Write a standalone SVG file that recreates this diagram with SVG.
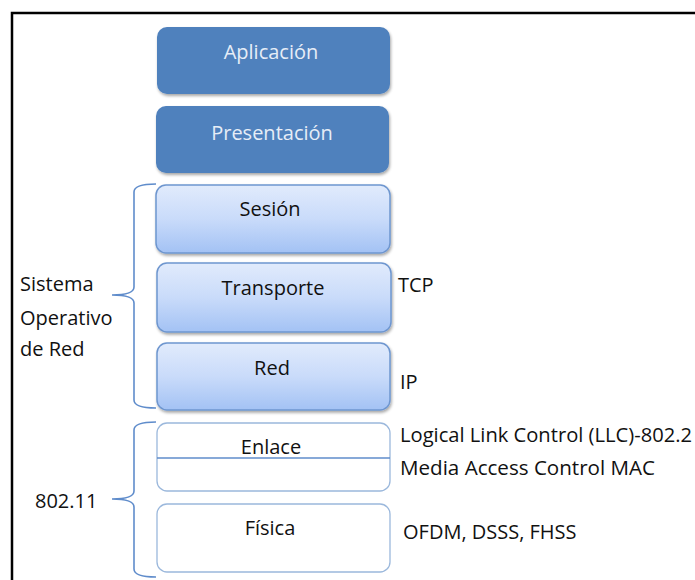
<svg xmlns="http://www.w3.org/2000/svg" width="695" height="580" viewBox="0 0 695 580">
<defs>
<linearGradient id="lg" x1="0" y1="0" x2="0" y2="1">
<stop offset="0" stop-color="#e1ebfc"/>
<stop offset="0.5" stop-color="#c9dbfa"/>
<stop offset="1" stop-color="#a3c2f4"/>
</linearGradient>
<filter id="sh" x="-10%" y="-10%" width="120%" height="130%">
<feGaussianBlur in="SourceAlpha" stdDeviation="1.5"/>
<feOffset dx="1" dy="2" result="b"/>
<feComponentTransfer><feFuncA type="linear" slope="0.35"/></feComponentTransfer>
<feMerge><feMergeNode/><feMergeNode in="SourceGraphic"/></feMerge>
</filter>
<style>
.t{font-family:"Open Sans","Liberation Sans",sans-serif;font-size:20px;fill:#111111}
.w{fill:#e6edf7;text-anchor:middle}
.c{text-anchor:middle}
.dk{fill:#4f81bd;filter:url(#sh)}
.lt{fill:url(#lg);stroke:#6e96cf;stroke-width:1.5;filter:url(#sh)}
.wb{fill:#ffffff;stroke:#9bb8dc;stroke-width:1.3}
.br{fill:none;stroke:#5f8ccb;stroke-width:1.6}
</style>
</defs>
<rect x="0" y="0" width="695" height="580" fill="#ffffff"/>
<rect x="12" y="13" width="700" height="600" fill="none" stroke="#000" stroke-width="2.5"/>

<g id="aplicacion"><rect class="dk" x="157" y="27" width="233" height="67" rx="10"/><text class="t w" x="271" y="59">Aplicación</text></g>
<g id="presentacion"><rect class="dk" x="156" y="106" width="233" height="67" rx="10"/><text class="t w" x="272" y="140">Presentación</text></g>
<g id="sesion"><rect class="lt" x="156" y="185" width="234" height="68" rx="10"/><text class="t c" x="270" y="216">Sesión</text></g>
<g id="transporte"><rect class="lt" x="157" y="263" width="234" height="69" rx="10"/><text class="t c" x="273" y="295">Transporte</text></g>
<g id="red"><rect class="lt" x="157" y="343" width="233" height="67" rx="10"/><text class="t c" x="272" y="375">Red</text></g>
<g id="enlace"><rect class="wb" x="157" y="423" width="233" height="68" rx="10"/><line x1="157" y1="458" x2="390" y2="458" stroke="#5f8ccb" stroke-width="1.3"/><text class="t c" x="271" y="454">Enlace</text></g>
<g id="fisica"><rect class="wb" x="157" y="504" width="233" height="68" rx="10"/><text class="t c" x="270" y="535">Física</text></g>

<g id="connectors">
<path class="br" d="M156,184 Q134,184 134,192 L134,287 Q134,295 112,295 Q134,295 134,303 L134,400 Q134,408 156,408"/>
<path class="br" d="M156,422 Q134,422 134,430 L134,491 Q134,499 112,499 Q134,499 134,507 L134,569 Q134,577 156,577"/>
</g>

<g id="labels">
<text class="t" x="20" y="291">Sistema</text>
<text class="t" x="20" y="325">Operativo</text>
<text class="t" x="20" y="356">de Red</text>
<text class="t" x="35" y="508">802.11</text>
<text class="t" x="398" y="292">TCP</text>
<text class="t" x="400" y="389">IP</text>
<text class="t" x="400" y="442" textLength="292" lengthAdjust="spacingAndGlyphs">Logical Link Control (LLC)-802.2</text>
<text class="t" x="400" y="475" textLength="255" lengthAdjust="spacingAndGlyphs">Media Access Control MAC</text>
<text class="t" x="403" y="539">OFDM, DSSS, FHSS</text>
</g>
</svg>
